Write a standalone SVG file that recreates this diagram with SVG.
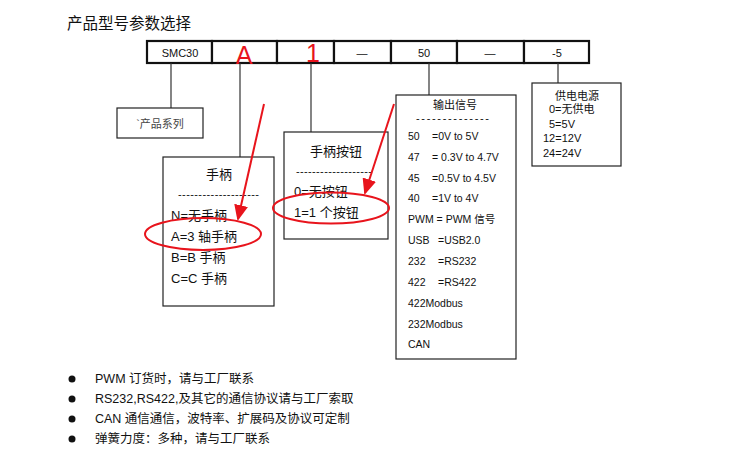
<svg xmlns="http://www.w3.org/2000/svg" width="750" height="461" viewBox="0 0 750 461">
<style>
text{font-family:"Liberation Sans","Noto Sans CJK SC",sans-serif;fill:#111}
.box{fill:#fff;stroke:#222;stroke-width:1.2}
.cell{fill:#fff;stroke:#111;stroke-width:2.2}
.ln{stroke:#333;stroke-width:1.2;fill:none}
.red{stroke:#e8141c;stroke-width:2;fill:none}
.s11{font-size:11px}
.s10{font-size:10.5px}
.s12{font-size:12px}
.s13{font-size:13px}
.mid{text-anchor:middle}
.g{fill:#444}
</style>
<defs>
<marker id="ah" markerWidth="16" markerHeight="14" refX="14" refY="7" orient="auto" markerUnits="userSpaceOnUse" viewBox="0 0 16 14">
<path d="M0,0 L16,7 L0,14 z" fill="#e8141c"/>
</marker>
</defs>
<rect width="750" height="461" fill="#fff"/>
<text x="67" y="29" style="font-size:15.5px">产品型号参数选择</text>

<g id="code-bar">
<rect class="cell" x="147" y="41" width="65" height="22"/>
<rect class="cell" x="212" y="41" width="65" height="22"/>
<rect class="cell" x="277" y="41" width="57" height="22"/>
<rect class="cell" x="334" y="41" width="57" height="22"/>
<rect class="cell" x="391" y="41" width="66" height="22"/>
<rect class="cell" x="457" y="41" width="67" height="22"/>
<rect class="cell" x="524" y="41" width="65" height="22"/>
<text class="s11 mid" x="180" y="57">SMC30</text>
<text class="mid" x="244" y="64" style="font-size:25px;fill:#e8141c">A</text>
<text class="mid" x="313" y="62" style="font-size:25px;fill:#e8141c">1</text>
<text class="s11 mid" x="362" y="57">—</text>
<text class="s11 mid" x="424" y="57">50</text>
<text class="s11 mid" x="490" y="57">—</text>
<text class="s11 mid" x="557" y="57">-5</text>
</g>

<g id="connectors">
<line class="ln" x1="171" y1="63" x2="171" y2="108"/>
<line class="ln" x1="240" y1="63" x2="240" y2="157"/>
<line class="ln" x1="311" y1="63" x2="311" y2="132"/>
<line class="ln" x1="429" y1="63" x2="429" y2="95"/>
<line class="ln" x1="558" y1="63" x2="558" y2="83"/>
</g>

<g id="series">
<rect class="box" x="117" y="108" width="86" height="30"/>
<text class="s11 mid g" x="160" y="128">`产品系列</text>
</g>

<g id="handle">
<rect class="box" x="163" y="157" width="111" height="149"/>
<text class="s13 mid" x="219" y="179">手柄</text>
<text class="s11" x="178" y="198" textLength="81" lengthAdjust="spacing">--------------------</text>
<text class="s13" x="171" y="220">N=无手柄</text>
<text class="s13" x="171" y="241">A=3 轴手柄</text>
<text class="s13" x="171" y="262">B=B 手柄</text>
<text class="s13" x="171" y="283">C=C 手柄</text>
</g>

<g id="button">
<rect class="box" x="284" y="132" width="104" height="107"/>
<text class="s13 mid" x="336" y="156">手柄按钮</text>
<text class="s11" x="296" y="175" textLength="76" lengthAdjust="spacing">-------------------</text>
<text class="s13" x="294" y="196">0=无按钮</text>
<text class="s13" x="294" y="217">1=1 个按钮</text>
</g>

<g id="output">
<rect class="box" x="396" y="95" width="120" height="264"/>
<text class="s11 mid" x="455" y="109">输出信号</text>
<text class="s11" x="416" y="122" textLength="73" lengthAdjust="spacing">--------------</text>
<text class="s10" x="408" y="140">50</text><text class="s10" x="432" y="140">=0V to 5V</text>
<text class="s10" x="408" y="161">47</text><text class="s10" x="432" y="161">= 0.3V to 4.7V</text>
<text class="s10" x="408" y="182">45</text><text class="s10" x="432" y="182">=0.5V to 4.5V</text>
<text class="s10" x="408" y="202">40</text><text class="s10" x="432" y="202">=1V to 4V</text>
<text class="s10" x="408" y="223">PWM = PWM 信号</text>
<text class="s10" x="408" y="244">USB</text><text class="s10" x="438" y="244">=USB2.0</text>
<text class="s10" x="408" y="265">232</text><text class="s10" x="438" y="265">=RS232</text>
<text class="s10" x="408" y="286">422</text><text class="s10" x="438" y="286">=RS422</text>
<text class="s10" x="408" y="307">422Modbus</text>
<text class="s10" x="408" y="328">232Modbus</text>
<text class="s10" x="408" y="348">CAN</text>
</g>

<g id="power">
<rect class="box" x="532" y="83" width="89" height="83"/>
<text class="s11 mid" x="577" y="100">供电电源</text>
<text class="s11" x="549" y="113">0=无供电</text>
<text class="s11" x="549" y="128">5=5V</text>
<text class="s11" x="543" y="142">12=12V</text>
<text class="s11" x="543" y="157">24=24V</text>
</g>

<g id="highlights">
<line class="red" x1="264" y1="104" x2="238" y2="219" marker-end="url(#ah)"/>
<line class="red" x1="394" y1="104" x2="365" y2="193" marker-end="url(#ah)"/>
<ellipse class="red" cx="203" cy="234" rx="58" ry="16"/>
<ellipse class="red" cx="331" cy="208" rx="58" ry="15.5"/>
</g>

<g id="notes">
<circle cx="72" cy="379" r="3.5" fill="#111"/>
<circle cx="72" cy="399" r="3.5" fill="#111"/>
<circle cx="72" cy="419" r="3.5" fill="#111"/>
<circle cx="72" cy="439" r="3.5" fill="#111"/>
<text class="s12" x="95" y="383" style="font-size:12.5px">PWM 订货时，请与工厂联系</text>
<text class="s12" x="95" y="403" style="font-size:12.5px">RS232,RS422,及其它的通信协议请与工厂索取</text>
<text class="s12" x="95" y="423" style="font-size:12.5px">CAN 通信通信，波特率、扩展码及协议可定制</text>
<text class="s12" x="95" y="443" style="font-size:12.5px">弹簧力度：多种，请与工厂联系</text>
</g>
</svg>
